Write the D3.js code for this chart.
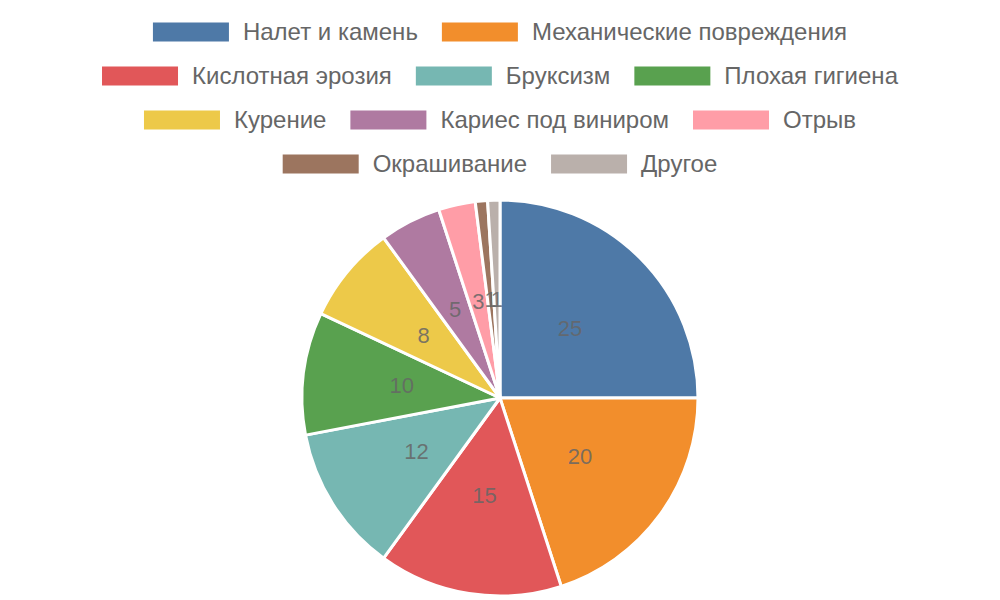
<!DOCTYPE html>
<html>
<head>
<meta charset="utf-8">
<script src="https://cdn.jsdelivr.net/npm/d3@7"></script>
<style>
  body { margin: 0; background: #fff; }
  svg { display: block; font-family: "Liberation Sans", Arial, sans-serif; }
</style>
</head>
<body>
<div class="chart"></div>
<script>
var categories = [`Налет и камень`, `Механические повреждения`, `Кислотная эрозия`, `Бруксизм`,
    `Плохая гигиена`, `Курение`, `Кариес под виниром`, `Отрыв`, `Окрашивание`, `Другое`];
var values = [25, 20, 15, 12, 10, 8, 5, 3, 1, 1];
var colors = [`#4e79a7`, `#f28e2c`, `#e15759`, `#76b7b2`, `#59a14f`,
    `#edc949`, `#af7aa1`, `#ff9da7`, `#9c755f`, `#bab0ab`];

var fullWidth = 1000;
var fullHeight = 600;

var svg = d3.select(`.chart`)
    .append(`svg`)
    .attr(`width`, fullWidth)
    .attr(`height`, fullHeight)
    .attr(`viewBox`, `0 0 ${fullWidth} ${fullHeight}`);

var color = d3.scaleOrdinal()
    .domain(categories)
    .range(colors);

// legend: wrap items into centered rows
var boxW = 76, boxH = 19, textGap = 14, itemGap = 24, maxRow = 960, rowStep = 44, firstRow = 32;
var fontSize = 24;

var measure = svg.append(`text`).style(`font-size`, `${fontSize}px`);
var items = categories.map(function (name) {
    measure.text(name);
    var tw = measure.node().getComputedTextLength();
    return {name: name, width: boxW + textGap + tw};
});
measure.remove();

var rows = [[]], rowW = [0];
items.forEach(function (it) {
    var r = rows.length - 1;
    var add = rows[r].length ? itemGap + it.width : it.width;
    if (rows[r].length && rowW[r] + add > maxRow) {
        rows.push([it]);
        rowW.push(it.width);
    } else {
        rows[r].push(it);
        rowW[r] += add;
    }
});

var legend = svg.append(`g`).attr(`class`, `legend`);
rows.forEach(function (row, i) {
    var x = (fullWidth - rowW[i]) / 2;
    var cy = firstRow + i * rowStep;
    row.forEach(function (it) {
        var g = legend.append(`g`).attr(`transform`, `translate(${x},${cy})`);
        g.append(`rect`)
            .attr(`x`, 0)
            .attr(`y`, -boxH / 2)
            .attr(`width`, boxW)
            .attr(`height`, boxH)
            .style(`fill`, color(it.name));
        g.append(`text`)
            .attr(`x`, boxW + textGap)
            .attr(`y`, 0)
            .attr(`dy`, `0.35em`)
            .style(`font-size`, `${fontSize}px`)
            .style(`fill`, `#666`)
            .text(it.name);
        x += it.width + itemGap;
    });
});

// pie
var cx = 500, cy = 398, radius = 198;
var data = categories.map((name, i) => ({name: name, value: values[i]}));

var pie = d3.pie()
    .sort(null)
    .value(d => d.value);

var arc = d3.arc()
    .innerRadius(0)
    .outerRadius(radius);

var labelArc = d3.arc()
    .innerRadius(radius / 2)
    .outerRadius(radius / 2);

var chart = svg.append(`g`)
    .attr(`transform`, `translate(${cx},${cy})`);

var slices = pie(data);

chart.selectAll(`path`)
    .data(slices)
    .enter()
    .append(`path`)
    .attr(`d`, arc)
    .style(`fill`, d => color(d.data.name))
    .style(`stroke`, `#fff`)
    .style(`stroke-width`, 3)
    .style(`stroke-linejoin`, `round`);

chart.selectAll(`text.value`)
    .data(slices)
    .enter()
    .append(`text`)
    .attr(`class`, `value`)
    .attr(`transform`, d => `translate(${labelArc.centroid(d)})`)
    .attr(`text-anchor`, `middle`)
    .attr(`dy`, `0.35em`)
    .style(`font-size`, `22px`)
    .style(`fill`, `#666`)
    .style(`fill-opacity`, 0.85)
    .text(d => d.data.value);
</script>
</body>
</html>
